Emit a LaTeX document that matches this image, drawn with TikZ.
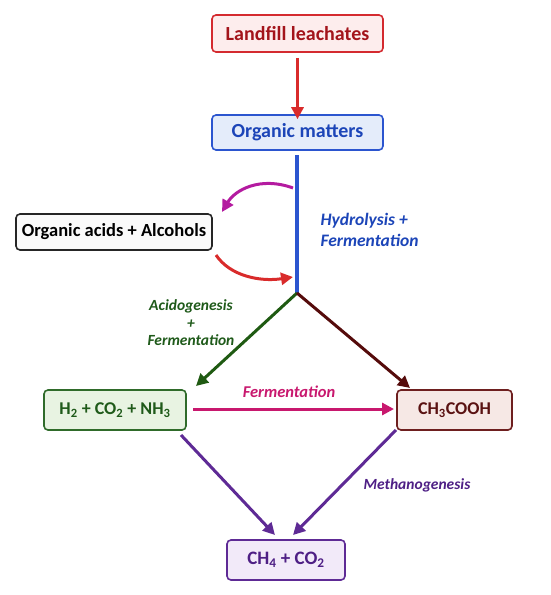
\documentclass[tikz,border=0pt]{standalone}
\usepackage{fontspec}
\setmainfont{Carlito}
\usetikzlibrary{arrows.meta}
\definecolor{redB}{HTML}{D42A2F}
\definecolor{redF}{HTML}{FDEDED}
\definecolor{redT}{HTML}{A3141B}
\definecolor{bluB}{HTML}{2B55CF}
\definecolor{bluF}{HTML}{E4ECFA}
\definecolor{bluT}{HTML}{1C45B8}
\definecolor{grnB}{HTML}{2F6B2A}
\definecolor{grnF}{HTML}{E8F3E2}
\definecolor{grnT}{HTML}{1F5A1A}
\definecolor{brnB}{HTML}{6E1F1F}
\definecolor{brnF}{HTML}{F6E8E5}
\definecolor{brnT}{HTML}{5A1212}
\definecolor{purB}{HTML}{5E2A95}
\definecolor{purF}{HTML}{F2EAF9}
\definecolor{purT}{HTML}{4E1F85}
\definecolor{pinkA}{HTML}{C8186E}
\definecolor{magA}{HTML}{B41BA0}
\definecolor{redA}{HTML}{D92B2B}
\definecolor{grnA}{HTML}{1F5A12}
\definecolor{brnA}{HTML}{550B0B}
\newcommand\fsz[1]{\bfseries\fontsize{#1}{#1}\selectfont}
\newcommand\fsi[1]{\bfseries\itshape\fontsize{#1}{#1}\selectfont}
\tikzset{
  box/.style={draw, rounded corners=4pt, line width=1.6pt, inner sep=0pt, anchor=center},
  lbl/.style={align=center},
  arr/.style={line width=3pt, -{Triangle[length=12pt,width=12pt]}},
}
\begin{document}
\begin{tikzpicture}[x=1pt,y=-1pt]
\useasboundingbox (0,0) rectangle (550,595);
\node[box, font=\fsz{20}, draw=redB, fill=redF, text=redT, minimum width=171pt, minimum height=37pt] (land) at (297.5,33.5) {Landfill leachates};
\node[box, font=\fsz{20}, draw=bluB, fill=bluF, text=bluT, minimum width=171pt, minimum height=35pt] (org) at (297.5,132.5) {Organic matters};
\node[box, font=\fsz{18.5}, draw=black!85, fill=black!2, text=black, minimum width=196pt, minimum height=36pt] (acid) at (114,232) {Organic acids + Alcohols};
\node[box, font=\fsz{18}, draw=grnB, fill=grnF, text=grnT, minimum width=142pt, minimum height=40pt] (h2) at (115,410) {H\textsubscript{2} + CO\textsubscript{2} + NH\textsubscript{3}};
\node[box, font=\fsz{18}, draw=brnB, fill=brnF, text=brnT, minimum width=115pt, minimum height=40pt] (ch3) at (454.5,410) {CH\textsubscript{3}COOH};
\node[box, font=\fsz{19}, draw=purB, fill=purF, text=purT, minimum width=118pt, minimum height=40pt] (ch4) at (286,560) {CH\textsubscript{4} + CO\textsubscript{2}};
\coordinate (top) at (297,155);
\coordinate (split) at (297,293);
\coordinate (a1) at (293,188);
\coordinate (a2) at (222,212);
\coordinate (b1) at (216,255);
\coordinate (b2) at (293,277);
\draw[arr, redA] (land.south) ++(0,5) -- ([yshift=-5pt]org.north);
\draw[line width=3.2pt, bluB] (top) -- (split);
\draw[arr, magA] (a1) .. controls (260,176) and (235,190) .. (a2);
\draw[arr, redA] (b1) .. controls (230,276) and (260,282) .. (b2);
\draw[arr, grnA] (split) -- (196,386);
\draw[arr, brnA] (split) -- (410,388);
\draw[arr, pinkA] (193,409) -- (394,409);
\draw[arr, purB] (181,435) -- (275,535);
\draw[arr, purB] (396,430) -- (293,535);
\node[lbl, font=\fsi{17.5}, text=bluT, align=left, anchor=west] (hyd) at (317,230) {Hydrolysis +\\[3pt]Fermentation};
\node[lbl, font=\fsi{15.5}, text=grnT] (acdo) at (191,323) {Acidogenesis\\[2pt]+\\[2pt]Fermentation};
\node[lbl, font=\fsi{16.5}, text=pinkA] (ferm) at (289,392) {Fermentation};
\node[lbl, font=\fsi{15.5}, text=purT] (meth) at (417,485) {Methanogenesis};
\end{tikzpicture}
\end{document}
